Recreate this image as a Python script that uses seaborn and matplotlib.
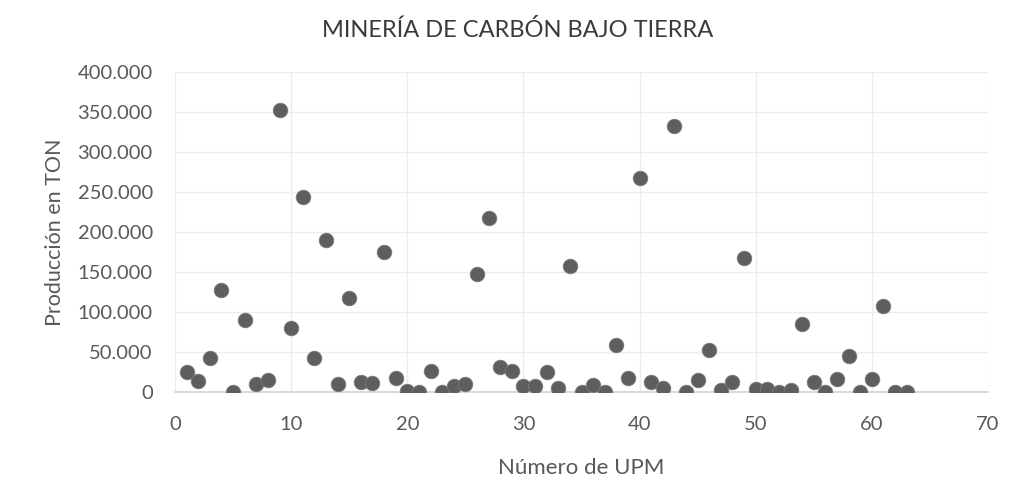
import matplotlib
matplotlib.use("Agg")
import matplotlib.pyplot as plt
import seaborn as sns
import pandas as pd
from matplotlib.ticker import FuncFormatter, MultipleLocator

# Data
upm = list(range(1, 64))
produccion = [
    25000, 14000, 43000, 127000, 500, 90000, 10000, 15000, 352000, 80000,
    244000, 43000, 190000, 10000, 118000, 13000, 11000, 175000, 18000, 1000,
    0, 26000, 0, 8000, 10000, 148000, 218000, 31000, 26000, 7000,
    8000, 25000, 5000, 157000, 500, 9000, 500, 59000, 17000, 268000,
    13000, 5000, 332000, 0, 15000, 52000, 2500, 13000, 168000, 4000,
    4000, 500, 2500, 85000, 12000, 500, 16000, 45000, 0, 16000,
    107000, 0, 0,
]
title = "MINERÍA DE CARBÓN BAJO TIERRA"
xlabel = "Número de UPM"
ylabel = "Producción en TON"

df = pd.DataFrame({"UPM": upm, "Produccion": produccion})

sns.set_theme(style="white")
plt.rcParams["font.family"] = ["Lato", "DejaVu Sans"]

fig = plt.figure(figsize=(10.16, 5.04), dpi=100)
ax = fig.add_axes([175 / 1016, (504 - 392) / 504, (988 - 175) / 1016, (392 - 72) / 504])

sns.scatterplot(data=df, x="UPM", y="Produccion", ax=ax, s=110,
                color="#5e5e5e", edgecolor="#7a7a7a", linewidth=0.6, zorder=3)

ax.set_xlim(0, 70)
ax.set_ylim(0, 400000)
ax.xaxis.set_major_locator(MultipleLocator(10))
ax.yaxis.set_major_locator(MultipleLocator(50000))
ax.yaxis.set_major_formatter(FuncFormatter(lambda v, p: f"{v:,.0f}".replace(",", ".")))

ax.grid(True, color="#ececec", linewidth=1.0, zorder=0)
for side in ["top", "right", "left"]:
    ax.spines[side].set_visible(False)
ax.spines["bottom"].set_color("#d4d4d4")
ax.spines["bottom"].set_linewidth(1.2)
ax.tick_params(axis="both", length=0, labelsize=14.5, colors="#595959")
ax.tick_params(axis="y", pad=16)
ax.tick_params(axis="x", pad=17)

ax.set_xlabel(xlabel, fontsize=16, color="#595959", labelpad=18)
ax.set_ylabel(ylabel, fontsize=15.5, color="#595959", labelpad=9)
fig.text(518 / 1016, 1 - 30 / 504, title, ha="center", va="center",
         fontsize=17, color="#3a3a3a")

fig.savefig("out.png", dpi=100, facecolor="white")
